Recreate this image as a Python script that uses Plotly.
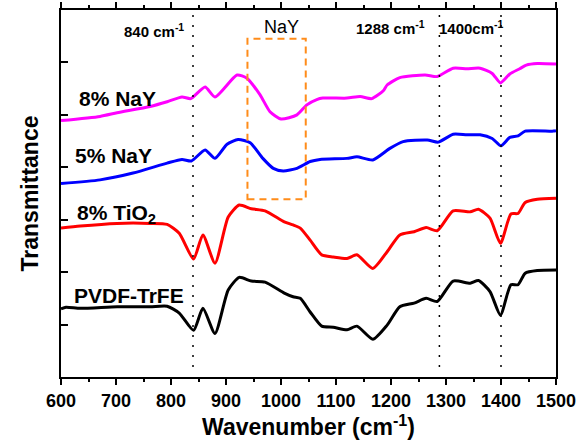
import plotly.graph_objects as go

# ---- data ----
nay8_x = [600, 671, 702, 762, 793, 820, 836, 862, 880, 920, 938, 962, 980, 1000, 1029, 1047, 1065, 1076,
          1120, 1144, 1165, 1186, 1193, 1216, 1262, 1284, 1313, 1338, 1362, 1384, 1399, 1416, 1434, 1446, 1466, 1500]
nay8_y = [4.89, 4.97, 5.04, 5.16, 5.25, 5.34, 5.31, 5.53, 5.34, 5.76, 5.70, 5.38, 5.06, 4.92, 5.00, 5.19, 5.29, 5.32,
          5.32, 5.35, 5.31, 5.46, 5.57, 5.71, 5.76, 5.73, 5.89, 5.88, 5.89, 5.79, 5.61, 5.78, 5.88, 5.95, 5.98, 5.97]

nay5_x = [600, 671, 731, 793, 820, 837, 862, 880, 902, 922, 944, 967, 986, 1004, 1029, 1053, 1071,
          1120, 1138, 1167, 1198, 1222, 1266, 1286, 1313, 1338, 1362, 1384, 1400, 1416, 1431, 1444, 1495, 1500]
nay5_y = [3.69, 3.76, 3.89, 4.08, 4.15, 4.12, 4.33, 4.17, 4.44, 4.53, 4.47, 4.17, 3.98, 3.93, 3.98, 4.11, 4.15,
          4.17, 4.20, 4.14, 4.36, 4.49, 4.52, 4.48, 4.63, 4.62, 4.62, 4.55, 4.41, 4.57, 4.60, 4.69, 4.69, 4.70]

tio2_x = [600, 635, 702, 762, 793, 815, 841, 858, 880, 904, 924, 946, 971, 1006, 1022, 1035, 1053, 1074, 1095,
          1120, 1138, 1167, 1193, 1216, 1242, 1264, 1284, 1313, 1344, 1359, 1380, 1399, 1418, 1431, 1444, 1466, 1500]
tio2_y = [2.84, 2.88, 2.93, 2.93, 2.91, 2.74, 2.25, 2.71, 2.17, 3.05, 3.28, 3.21, 3.17, 2.96, 2.90, 2.84, 2.61, 2.33, 2.29,
          2.26, 2.33, 2.07, 2.39, 2.71, 2.77, 2.85, 2.79, 3.17, 3.15, 3.20, 3.03, 2.55, 3.11, 3.12, 3.33, 3.39, 3.41]

pvdf_x = [600, 609, 635, 702, 762, 793, 815, 841, 858, 880, 904, 924, 946, 971, 1006, 1022, 1035, 1053, 1074, 1095,
          1120, 1138, 1167, 1193, 1216, 1242, 1264, 1284, 1313, 1344, 1359, 1380, 1399, 1418, 1431, 1444, 1466, 1500]
pvdf_y = [1.30, 1.33, 1.31, 1.34, 1.34, 1.35, 1.22, 0.89, 1.31, 0.83, 1.66, 1.90, 1.83, 1.81, 1.60, 1.53, 1.50, 1.24, 0.97, 0.95,
          0.90, 0.97, 0.72, 0.99, 1.34, 1.41, 1.50, 1.44, 1.83, 1.79, 1.84, 1.63, 1.18, 1.76, 1.76, 1.98, 2.03, 2.04]

marker_lines = [840, 1288, 1400]
nay_box = dict(x0=939, x1=1045, y0=3.39, y1=6.45)

x_ticks = list(range(600, 1501, 100))
y_ticks = [1, 2, 3, 4, 5, 6]

FONT = "Liberation Sans, Arial, sans-serif"

fig = go.Figure()
for xs, ys, col in [(nay8_x, nay8_y, "#FF00FF"), (nay5_x, nay5_y, "#0000FF"),
                    (tio2_x, tio2_y, "#FF0000"), (pvdf_x, pvdf_y, "#000000")]:
    fig.add_trace(go.Scatter(x=xs, y=ys, mode="lines",
                             line=dict(color=col, width=3, shape="spline", smoothing=0.6),
                             showlegend=False, hoverinfo="skip"))

for xv in marker_lines:
    fig.add_shape(type="line", x0=xv, x1=xv, y0=0.19, y1=6.97, xref="x", yref="y",
                  line=dict(color="black", width=1.5, dash="2px,8px"))

fig.add_shape(type="rect", xref="x", yref="y", **nay_box,
              line=dict(color="#FF8C1A", width=2, dash="7px,5px"))

ann = [
    dict(x=827, y=6.60, text="<b>840 cm<sup>-1</sup></b>", xanchor="right", size=15),
    dict(x=1266, y=6.66, text="<b>1288 cm<sup>-1</sup></b>", xanchor="right", size=15),
    dict(x=1283, y=6.66, text="<b>1400cm<sup>-1</sup></b>", xanchor="left", size=15),
    dict(x=1000, y=6.68, text="NaY", xanchor="center", size=18),
    dict(x=629, y=5.32, text="<b>8% NaY</b>", xanchor="left", size=21),
    dict(x=622, y=4.23, text="<b>5% NaY</b>", xanchor="left", size=21),
    dict(x=625, y=3.10, text="<b>8% TiO<sub>2</sub></b>", xanchor="left", size=21),
    dict(x=620, y=1.55, text="<b>PVDF-TrFE</b>", xanchor="left", size=21),
]
for a in ann:
    fig.add_annotation(x=a["x"], y=a["y"], text=a["text"], xanchor=a["xanchor"], yanchor="middle",
                       showarrow=False, font=dict(family=FONT, size=a["size"], color="black"))

fig.update_layout(
    width=577, height=443,
    margin=dict(l=61, r=21, t=10, b=66, autoexpand=False),
    plot_bgcolor="white", paper_bgcolor="white",
    font=dict(family=FONT, color="black"),
)
fig.update_xaxes(
    range=[600, 1500], tickvals=x_ticks, ticktext=[f"<b>{v}</b>" for v in x_ticks],
    tickfont=dict(size=18, family=FONT, color="black"),
    ticks="outside", ticklen=6, tickwidth=2, tickcolor="black",
    minor=dict(dtick=50, tick0=600, ticks="outside", ticklen=3, tickwidth=1.5, tickcolor="black"),
    showline=True, linewidth=2, linecolor="black", mirror="ticks",
    showgrid=False, zeroline=False, automargin=False,
    title=dict(text="<b>Wavenumber (cm<sup>-1</sup>)</b>", font=dict(size=23, family=FONT, color="black"), standoff=8),
)
fig.update_yaxes(
    range=[0, 7], tickvals=y_ticks, showticklabels=False,
    ticks="inside", ticklen=7, tickwidth=2, tickcolor="black",
    showline=True, linewidth=2, linecolor="black", mirror=True,
    showgrid=False, zeroline=False, automargin=False,
    title=dict(text="<b>Transmittance</b>", font=dict(size=23, family=FONT, color="black"), standoff=14),
)

fig.write_html("out.html")
